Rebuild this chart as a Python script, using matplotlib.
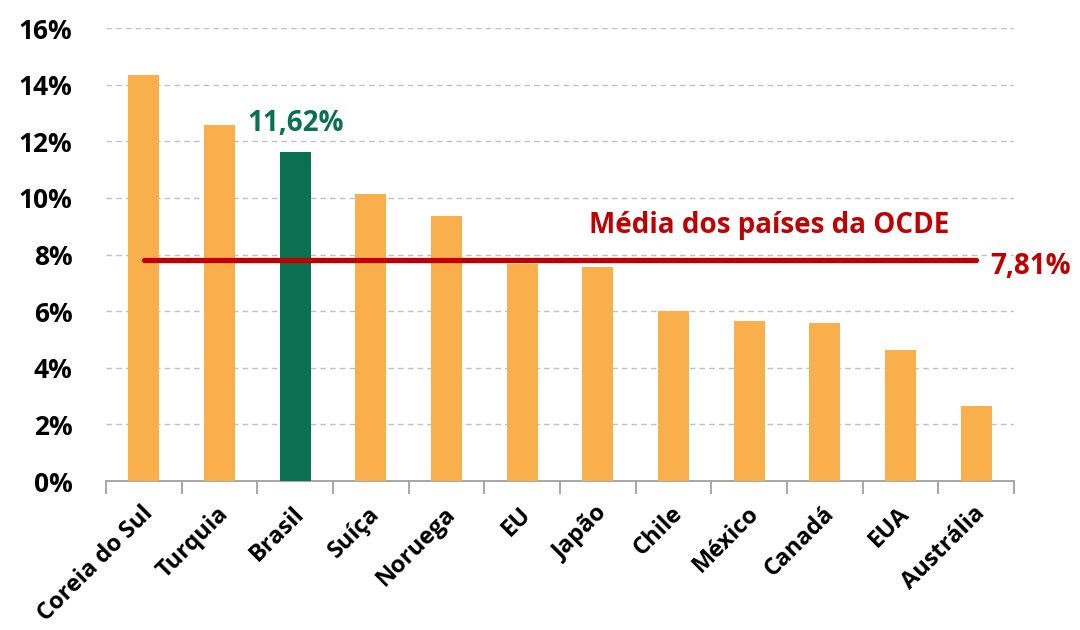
import matplotlib
matplotlib.use("Agg")
import matplotlib.pyplot as plt
from matplotlib.ticker import FuncFormatter
from matplotlib.transforms import ScaledTranslation

categories = ["Coreia do Sul", "Turquia", "Brasil", "Suíça", "Noruega", "EU",
              "Japão", "Chile", "México", "Canadá", "EUA", "Austrália"]
values = [14.35, 12.58, 11.62, 10.14, 9.36, 7.67, 7.56, 6.0, 5.65, 5.58, 4.63, 2.65]
highlight = "Brasil"
ocde_mean = 7.81
yticks = [0, 2, 4, 6, 8, 10, 12, 14, 16]

orange = "#F9B04C"
green = "#0A7050"
red = "#C00000"
font = "Open Sans"

fig = plt.figure(figsize=(10.8, 6.3), dpi=100)
ax = fig.add_axes([0.098, 0.2365, 0.841, 0.719])

x = list(range(len(categories)))
colors = [green if c == highlight else orange for c in categories]
ax.bar(x, values, width=0.41, color=colors, zorder=3)

ax.set_xlim(-0.5, len(categories) - 0.5)
ax.set_ylim(0, 16)
ax.set_yticks(yticks)
ax.yaxis.set_major_formatter(FuncFormatter(lambda v, p: f"{v:.0f}%"))
ax.grid(axis="y", color="#C0C0C0", linestyle=(0, (4, 3)), linewidth=1.0, zorder=0)
ax.set_axisbelow(True)

for s in ["top", "right", "left"]:
    ax.spines[s].set_visible(False)
ax.spines["bottom"].set_color("#A0A0A0")
ax.spines["bottom"].set_linewidth(1.3)

ax.tick_params(axis="y", length=0, pad=24, labelsize=19)
for lab in ax.get_yticklabels():
    lab.set_fontweight("bold")
    lab.set_fontfamily(font)

# category boundary ticks
ax.set_xticks([i - 0.5 for i in range(len(categories) + 1)], minor=False)
ax.set_xticklabels([])
ax.tick_params(axis="x", length=9, width=1.3, color="#A0A0A0", direction="out")

offset = ScaledTranslation(-2 / 72, -15 / 72, fig.dpi_scale_trans)
for i, c in enumerate(categories):
    ax.text(i, 0, c, rotation=45, ha="right", va="top", rotation_mode="anchor",
            fontsize=17, fontweight="bold", fontfamily=font,
            transform=ax.get_xaxis_transform() + offset)

# OCDE mean line
ax.plot([x[0], x[-1]], [ocde_mean, ocde_mean], color=red, linewidth=3.8,
        solid_capstyle="round", zorder=4)
ax.text(x[-1] + 0.18, ocde_mean - 0.25, f"{ocde_mean:.2f}%".replace(".", ","),
        color=red, fontsize=20, fontweight="bold", fontfamily=font,
        ha="left", va="center", clip_on=False)
ax.text(8.27, ocde_mean + 1.22, "Média dos países da OCDE", color=red,
        fontsize=20, fontweight="bold", fontfamily=font, ha="center", va="center")

# Brasil label
bi = categories.index(highlight)
ax.text(bi, values[bi] + 0.5, f"{values[bi]:.2f}%".replace(".", ","),
        color=green, fontsize=20, fontweight="bold", fontfamily=font,
        ha="center", va="bottom")

fig.savefig("out.png", dpi=100)
